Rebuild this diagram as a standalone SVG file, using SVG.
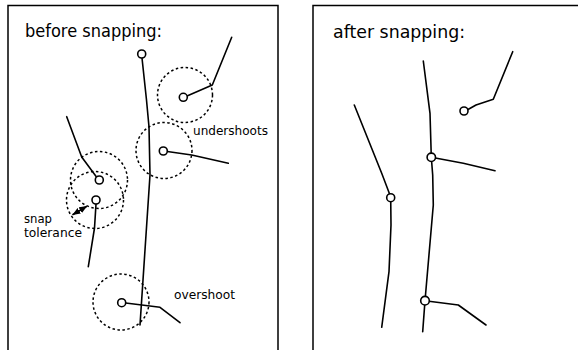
<svg xmlns="http://www.w3.org/2000/svg" width="578" height="350" viewBox="0 0 578 350">
<defs>
<style>
.frame{fill:none;stroke:#000;stroke-width:1.5}
.ln{fill:none;stroke:#000;stroke-width:1.6;stroke-linejoin:round;stroke-linecap:round}
.pt{fill:#fff;stroke:#000;stroke-width:1.6}
.tol{fill:none;stroke:#000;stroke-width:1.5;stroke-dasharray:2.5 2.5}
.title{font-family:"DejaVu Sans",sans-serif;font-size:18px;fill:#000}
.lbl{font-family:"DejaVu Sans",sans-serif;font-size:13px;fill:#000}
</style>
<marker id="ah" viewBox="0 0 10 10" refX="9" refY="5" markerWidth="5" markerHeight="5" orient="auto-start-reverse">
<path d="M0,1 L10,5 L0,9 Z" fill="#000"/>
</marker>
</defs>
<rect width="578" height="350" fill="#fff"/>
<g id="panel-before">
<path class="frame" d="M8,350 V5.5 H278 V350"/>
<text class="title" x="25" y="37" textLength="137" lengthAdjust="spacingAndGlyphs">before snapping:</text>
</g>
<g id="panel-after">
<path class="frame" d="M313,350 V5.5 H578"/>
<text class="title" x="333" y="38" textLength="132" lengthAdjust="spacingAndGlyphs">after snapping:</text>
</g>
<g id="connectors">
<polyline class="ln" points="142,58 146.5,100 149,127 150,175 148,205 140,325"/>
<polyline class="ln" points="231.7,37.3 212.3,85 187,96"/>
<polyline class="ln" points="167.3,151.5 191.7,155 228.3,163.3"/>
<polyline class="ln" points="66.7,116.7 81.7,157 96.5,177"/>
<polyline class="ln" points="96,204 94.5,228 88.3,266.7"/>
<polyline class="ln" points="125.7,303 160,307.3 180,322.7"/>
<line class="ln" x1="73" y1="214.5" x2="86.5" y2="206.5" marker-start="url(#ah)" marker-end="url(#ah)"/>
<polyline class="ln" points="512.7,51.7 493.3,99.3 476,105 468,109.5"/>
<polyline class="ln" points="423.3,61 430,113.3 431.3,157.3 432.7,175 433.3,205 425,300.7 422.7,331.7"/>
<polyline class="ln" points="431.3,157.3 463.3,163.3 495,170.7"/>
<polyline class="ln" points="425,300.7 458.3,305 486,325"/>
<polyline class="ln" points="354.3,105 381.7,173.3 389.3,193.3 390.7,197.7 391,225 389,271.7 381.7,327.3"/>
</g>
<g id="tolerance-circles">
<circle class="tol" cx="185" cy="95" r="27.5"/>
<circle class="tol" cx="164" cy="150.5" r="28"/>
<circle class="tol" cx="99" cy="180" r="28.5"/>
<circle class="tol" cx="95" cy="200" r="28.5"/>
<circle class="tol" cx="121" cy="302" r="28"/>
</g>
<g id="node-top"><circle class="pt" cx="141.7" cy="54" r="4"/></g>
<g id="node-undershoot-1"><circle class="pt" cx="183.3" cy="97.3" r="4"/></g>
<g id="node-undershoot-2"><circle class="pt" cx="163.3" cy="151" r="4"/></g>
<g id="node-left-1"><circle class="pt" cx="99.3" cy="180" r="4"/></g>
<g id="node-left-2"><circle class="pt" cx="96" cy="200" r="4"/></g>
<g id="node-overshoot"><circle class="pt" cx="121.7" cy="302.7" r="4"/></g>
<g id="node-after-1"><circle class="pt" cx="464" cy="111" r="4"/></g>
<g id="node-after-2"><circle class="pt" cx="431.3" cy="157.3" r="4.2"/></g>
<g id="node-after-3"><circle class="pt" cx="390.7" cy="197.7" r="4" stroke-width="2.2"/></g>
<g id="node-after-4"><circle class="pt" cx="425" cy="300.7" r="4.3"/></g>
<g id="labels">
<text class="lbl" x="193" y="135" textLength="75" lengthAdjust="spacingAndGlyphs">undershoots</text>
<text class="lbl" x="24" y="223" textLength="28" lengthAdjust="spacingAndGlyphs">snap</text>
<text class="lbl" x="24" y="237" textLength="58" lengthAdjust="spacingAndGlyphs">tolerance</text>
<text class="lbl" x="174" y="299" textLength="61" lengthAdjust="spacingAndGlyphs">overshoot</text>
</g>
</svg>
